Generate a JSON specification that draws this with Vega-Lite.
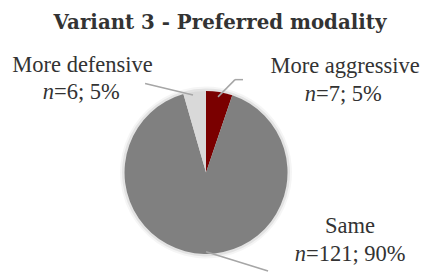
{
  "$schema": "https://vega.github.io/schema/vega-lite/v6.json",
  "width": 422,
  "height": 273,
  "autosize": {"type": "fit", "contains": "padding"},
  "padding": {"top": 13, "bottom": 0, "left": 0, "right": 0},
  "background": "white",
  "config": {"view": {"stroke": null}},
  "title": {
    "text": "Variant 3 - Preferred modality",
    "font": "DejaVu Serif",
    "fontWeight": "bold",
    "fontSize": 19.8,
    "color": "#333333",
    "anchor": "middle",
    "dx": 9,
    "offset": 4
  },
  "datasets": {
    "slices": [
      {"cat": "More aggressive", "n": 7, "ord": 1},
      {"cat": "Same", "n": 121, "ord": 2},
      {"cat": "More defensive", "n": 6, "ord": 3}
    ],
    "labels": [
      {"u": -1.515, "v": 1.288, "txt": "More defensive", "part": "name"},
      {"u": -1.865, "v": 0.945, "txt": "n", "part": "n"},
      {"u": -1.865, "v": 0.945, "txt": "=6; 5%", "part": "rest"},
      {"u": 1.706, "v": 1.276, "txt": "More aggressive", "part": "name"},
      {"u": 1.35, "v": 0.92, "txt": "n", "part": "n"},
      {"u": 1.35, "v": 0.92, "txt": "=7; 5%", "part": "rest"},
      {"u": 1.767, "v": -0.773, "txt": "Same", "part": "name"},
      {"u": 1.227, "v": -1.141, "txt": "n", "part": "n"},
      {"u": 1.227, "v": -1.141, "txt": "=121; 90%", "part": "rest"}
    ],
    "leaders": [
      {"u": -0.748, "v": 1.141, "u2": -0.16, "v2": 0.994},
      {"u": 0.454, "v": 1.19, "u2": 0.356, "v2": 1.19},
      {"u": 0.356, "v": 1.19, "u2": 0.147, "v2": 0.969},
      {"u": 0.0, "v": -1.018, "u2": 0.761, "v2": -1.264}
    ]
  },
  "layer": [
    {
      "data": {"name": "slices"},
      "mark": {"type": "arc", "outerRadius": 86, "color": "#000000", "opacity": 0.04},
      "encoding": {
        "x": {"datum": 0, "type": "quantitative", "scale": {"domain": [-2.528, 2.65], "nice": false, "zero": false}, "axis": null},
        "y": {"datum": 0, "type": "quantitative", "scale": {"domain": [-1.239, 1.737], "nice": false, "zero": false}, "axis": null},
        "theta": {"field": "n", "type": "quantitative", "stack": true},
        "order": {"field": "ord", "type": "quantitative"}
      }
    },
    {
      "data": {"name": "slices"},
      "mark": {"type": "arc", "outerRadius": 84, "color": "#000000", "opacity": 0.07},
      "encoding": {
        "x": {"datum": 0, "type": "quantitative", "axis": null},
        "y": {"datum": 0, "type": "quantitative", "axis": null},
        "theta": {"field": "n", "type": "quantitative", "stack": true},
        "order": {"field": "ord", "type": "quantitative"}
      }
    },
    {
      "data": {"name": "slices"},
      "mark": {"type": "arc", "outerRadius": 81.5},
      "encoding": {
        "x": {"datum": 0, "type": "quantitative", "axis": null},
        "y": {"datum": 0, "type": "quantitative", "axis": null},
        "theta": {"field": "n", "type": "quantitative", "stack": true},
        "order": {"field": "ord", "type": "quantitative"},
        "color": {
          "field": "cat",
          "type": "nominal",
          "scale": {"domain": ["More aggressive", "Same", "More defensive"], "range": ["#7a0000", "#808080", "#d9d9d9"]},
          "legend": null
        }
      }
    },
    {
      "data": {"name": "leaders"},
      "mark": {"type": "rule", "color": "#a6a6a6", "strokeWidth": 1.5},
      "encoding": {
        "x": {"field": "u", "type": "quantitative", "axis": null},
        "y": {"field": "v", "type": "quantitative", "axis": null},
        "x2": {"field": "u2"},
        "y2": {"field": "v2"}
      }
    },
    {
      "data": {"name": "labels"},
      "transform": [{"filter": "datum.part === 'name'"}],
      "mark": {"type": "text", "font": "Liberation Serif", "fontSize": 22.5, "color": "#333333", "align": "center", "baseline": "alphabetic"},
      "encoding": {
        "x": {"field": "u", "type": "quantitative", "axis": null},
        "y": {"field": "v", "type": "quantitative", "axis": null},
        "text": {"field": "txt"}
      }
    },
    {
      "data": {"name": "labels"},
      "transform": [{"filter": "datum.part === 'n'"}],
      "mark": {"type": "text", "font": "Liberation Serif", "fontStyle": "italic", "fontSize": 22.5, "color": "#333333", "align": "right", "baseline": "alphabetic"},
      "encoding": {
        "x": {"field": "u", "type": "quantitative", "axis": null},
        "y": {"field": "v", "type": "quantitative", "axis": null},
        "text": {"field": "txt"}
      }
    },
    {
      "data": {"name": "labels"},
      "transform": [{"filter": "datum.part === 'rest'"}],
      "mark": {"type": "text", "font": "Liberation Serif", "fontSize": 22.5, "color": "#333333", "align": "left", "baseline": "alphabetic"},
      "encoding": {
        "x": {"field": "u", "type": "quantitative", "axis": null},
        "y": {"field": "v", "type": "quantitative", "axis": null},
        "text": {"field": "txt"}
      }
    }
  ]
}
